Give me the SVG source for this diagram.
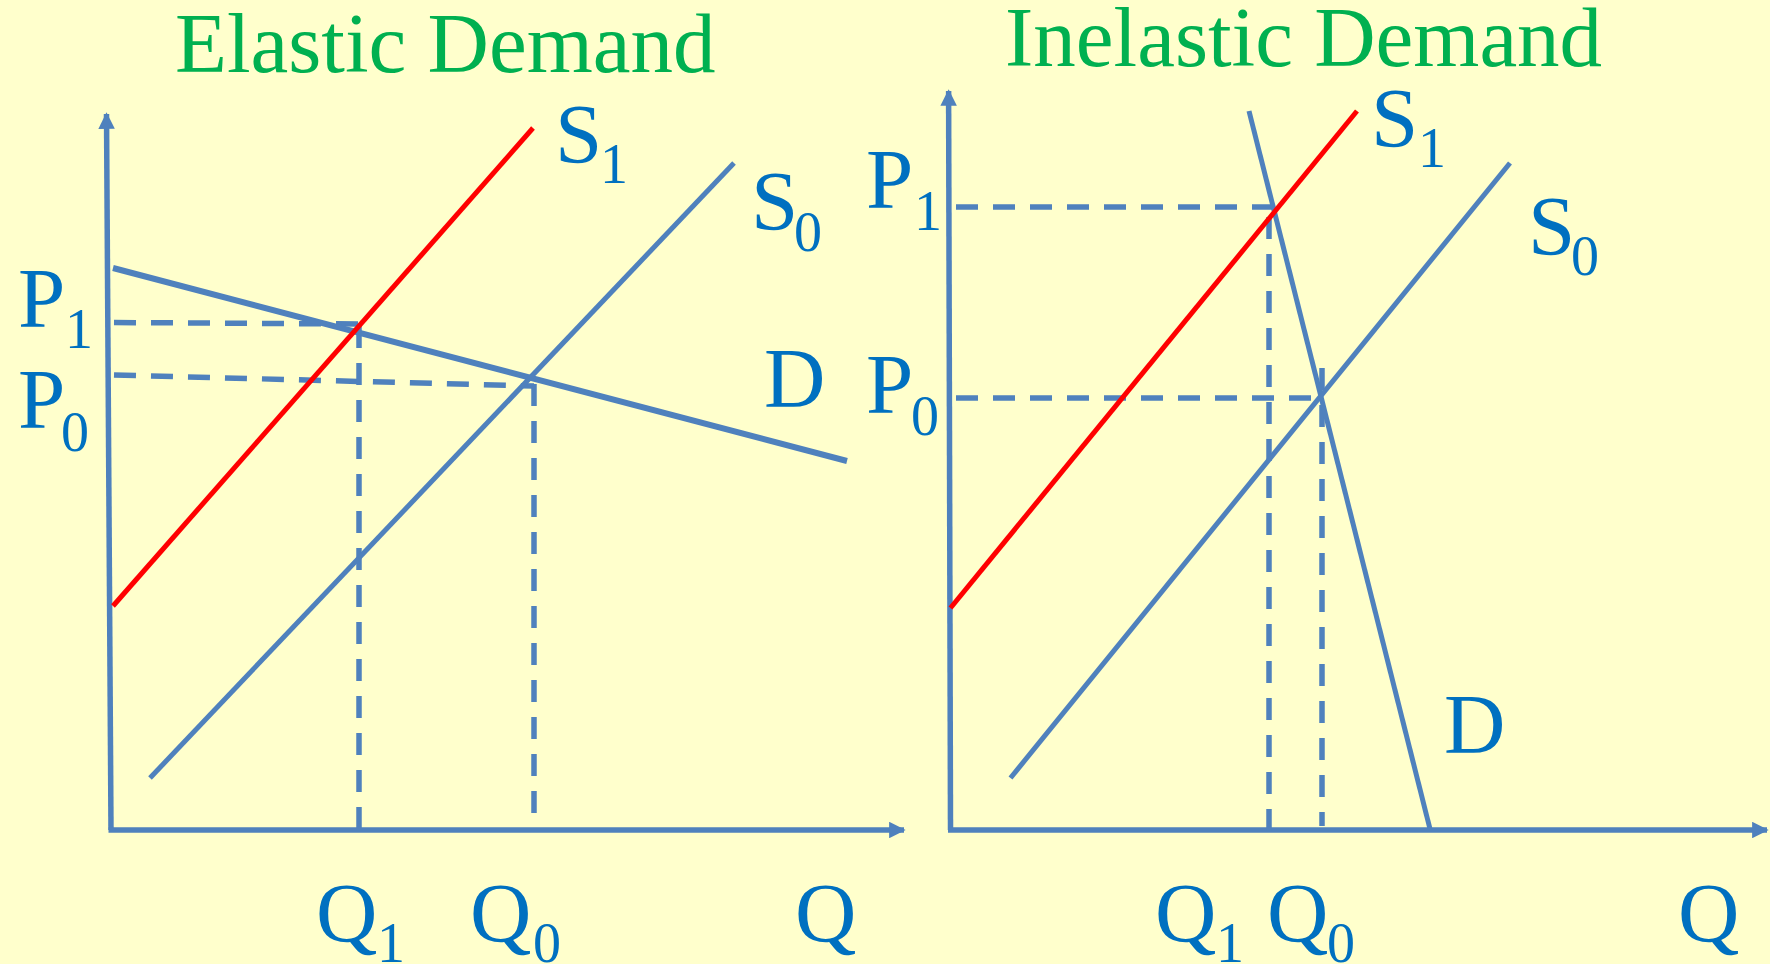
<svg xmlns="http://www.w3.org/2000/svg" width="1770" height="964" viewBox="0 0 1770 964">
<defs>
<style>
.t{font-family:"Liberation Serif","Times New Roman",serif;fill:#0070C0;font-size:85px}
.sub{font-size:56px}
.title{font-family:"Liberation Serif","Times New Roman",serif;fill:#00B050;font-size:85px}
.ax{stroke:#4F81BD;stroke-width:5.5;fill:none}
.bl{stroke:#4F81BD;stroke-width:5;fill:none}
.dm{stroke:#4F81BD;stroke-width:6;fill:none}
.rd{stroke:#FF0000;stroke-width:5;fill:none}
.ds{stroke:#4F81BD;stroke-width:5.5;fill:none;stroke-dasharray:22 15}
</style>
<marker id="arr" viewBox="0 0 10 10" refX="9" refY="5" markerWidth="3" markerHeight="3" orient="auto" markerUnits="strokeWidth">
<path d="M0,0 L10,5 L0,10 z" fill="#4F81BD"/>
</marker>
</defs>
<rect width="1770" height="964" fill="#FFFFCC"/>

<g id="left-chart">
<text class="title" x="175" y="72">Elastic Demand</text>
<g id="connectors-left">
<line class="ax" x1="111" y1="830" x2="106.5" y2="114" marker-end="url(#arr)"/>
<line class="ax" x1="108.5" y1="830" x2="904" y2="830" marker-end="url(#arr)"/>
<line class="ds" x1="114" y1="322.5" x2="358" y2="324"/>
<line class="ds" x1="114" y1="375" x2="534" y2="386" stroke-dasharray="12 15 22 15"/>
<line class="ds" x1="359" y1="326" x2="359" y2="828"/>
<line class="ds" x1="534" y1="384" x2="534" y2="828"/>
<line class="dm" x1="113" y1="268" x2="847" y2="461"/>
<line class="rd" x1="113" y1="606" x2="533" y2="128"/>
<line class="bl" x1="150" y1="778" x2="734" y2="163"/>
</g>
<g id="lbl-S1-left"><text class="t" x="555" y="163">S<tspan class="sub" x="600" y="183">1</tspan></text></g>
<g id="lbl-S0-left"><text class="t" x="751" y="230">S<tspan class="sub" x="794" y="251">0</tspan></text></g>
<g id="lbl-P1-left"><text class="t" x="18" y="327">P<tspan class="sub" x="65" y="348">1</tspan></text></g>
<g id="lbl-P0-left"><text class="t" x="18" y="428">P<tspan class="sub" x="61" y="451">0</tspan></text></g>
<g id="lbl-D-left"><text class="t" x="764" y="407">D</text></g>
<g id="lbl-Q1-left"><text class="t" x="316" y="942">Q<tspan class="sub" x="377" y="962">1</tspan></text></g>
<g id="lbl-Q0-left"><text class="t" x="470" y="942">Q<tspan class="sub" x="533" y="962">0</tspan></text></g>
<g id="lbl-Q-left"><text class="t" x="795" y="942">Q</text></g>
</g>

<g id="right-chart">
<text class="title" x="1005" y="66">Inelastic Demand</text>
<g id="connectors-right">
<line class="ax" x1="950.5" y1="830" x2="948.6" y2="91" marker-end="url(#arr)"/>
<line class="ax" x1="948" y1="830" x2="1767" y2="830" marker-end="url(#arr)"/>
<line class="ds" x1="956" y1="207" x2="1272" y2="207" stroke-dasharray="6 17 20 17 20 17 20 17 20 17 20 17 20 17 20 17 20 17 20 17"/>
<line class="ds" x1="956" y1="398" x2="1321" y2="398" stroke-dasharray="6 17 20 17 20 17 20 17 20 17 20 17 20 17 20 17 20 17 20 17 20 17"/>
<line class="ds" x1="1269" y1="217" x2="1269" y2="837" stroke-dasharray="20 17"/>
<line class="ds" x1="1322" y1="368" x2="1322" y2="826" stroke-dasharray="20 17"/>
<line class="bl" x1="1249" y1="111" x2="1430" y2="829"/>
<line class="rd" x1="950.5" y1="608" x2="1357" y2="111"/>
<line class="bl" x1="1010.5" y1="778" x2="1510" y2="163"/>
</g>
<g id="lbl-S1-right"><text class="t" x="1371" y="147">S<tspan class="sub" x="1418" y="167">1</tspan></text></g>
<g id="lbl-S0-right"><text class="t" x="1528" y="255">S<tspan class="sub" x="1571" y="275">0</tspan></text></g>
<g id="lbl-P1-right"><text class="t" x="866" y="208">P<tspan class="sub" x="914" y="230">1</tspan></text></g>
<g id="lbl-P0-right"><text class="t" x="866" y="413">P<tspan class="sub" x="911" y="435">0</tspan></text></g>
<g id="lbl-D-right"><text class="t" x="1444" y="753">D</text></g>
<g id="lbl-Q1-right"><text class="t" x="1155" y="942">Q<tspan class="sub" x="1216" y="962">1</tspan></text></g>
<g id="lbl-Q0-right"><text class="t" x="1267" y="942">Q<tspan class="sub" x="1327" y="962">0</tspan></text></g>
<g id="lbl-Q-right"><text class="t" x="1678" y="942">Q</text></g>
</g>
</svg>
